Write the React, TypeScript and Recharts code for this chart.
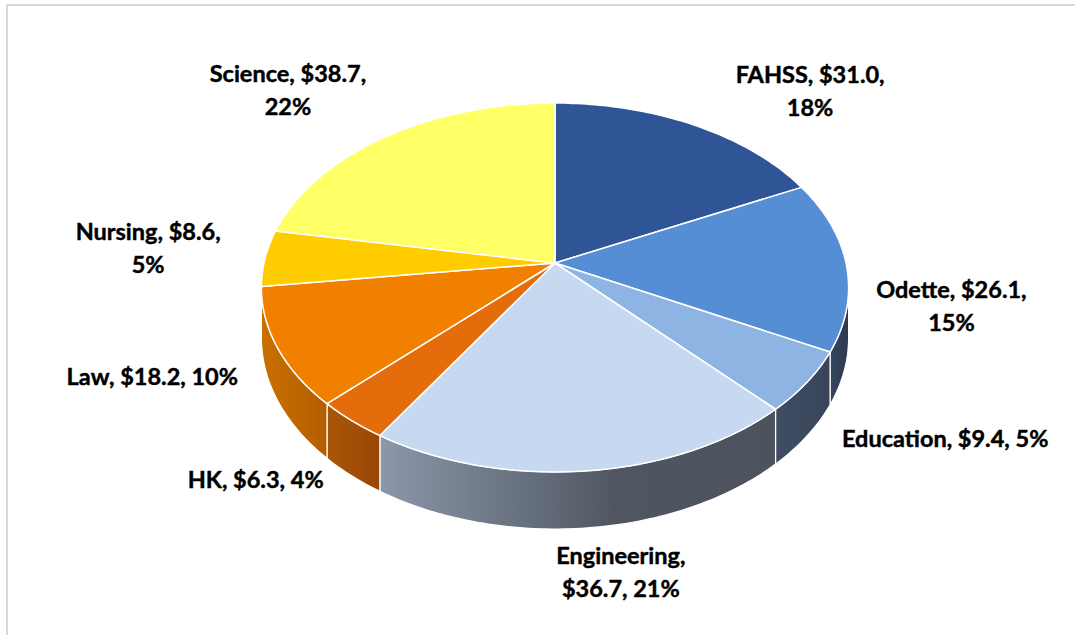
import React from 'react';
import { PieChart, Pie, Cell } from 'recharts';

// ---- data ----
const categories = ['FAHSS', 'Odette', 'Education', 'Engineering', 'HK', 'Law', 'Nursing', 'Science'];
const amounts = [31.0, 26.1, 9.4, 36.7, 6.3, 18.2, 8.6, 38.7];
const percentLabels = ['18%', '15%', '5%', '21%', '4%', '10%', '5%', '22%'];
// how many comma-separated parts of the label sit on the first line
const labelBreaks = [2, 2, 3, 1, 3, 3, 2, 2];

// ---- styles / layout ----
const topColors = ['#2f5597', '#558ed5', '#8db4e2', '#c6d9f1', '#e46c0a', '#f28000', '#ffcc00', '#ffff66'];
const wallStops: string[][] = [
  ['#22407a', '#22407a', '#22407a'],
  ['#36455e', '#303e55', '#2c394e'],
  ['#3f4d63', '#3b485d', '#384559'],
  ['#8b98aa', '#4f5661', '#4c535d'],
  ['#aa560a', '#a04d07', '#984705'],
  ['#c97000', '#bd6600', '#b25e00'],
  ['#c09900', '#c09900', '#c09900'],
  ['#bfbf4c', '#bfbf4c', '#bfbf4c'],
];
const labelNudge: [number, number][] = [
  [117, -42], [105, 33], [138, 65], [34, 93], [-96, 67], [-125, 38], [-117, -18], [-98, -55],
];
const LINE_H = 33;
const FONT = "Lato, 'Open Sans', sans-serif";
const FONT_SIZE = 23.5;

// perspective parameters
const K = 0.6227; // vertical squash
const B = 0.1328; // perspective strength
const H = 49.5; // wall height
const VIS_L = (Math.acos(-B) * 180) / Math.PI;
const VIS_R = 360 - VIS_L;

const data = categories.map((name, i) => ({ name, value: amounts[i] }));

function proj(cx: number, cy: number, r: number, theta: number): [number, number, number] {
  const t = (theta * Math.PI) / 180;
  const u = Math.sin(t);
  const v = Math.cos(t);
  const d = 1 + B * v;
  return [cx + (r * u) / d, cy - (r * K * v) / d, d];
}

function labelLines(i: number): string[] {
  const parts = [categories[i], `$${amounts[i].toFixed(1)}`, percentLabels[i]];
  const n = labelBreaks[i];
  const first = parts.slice(0, n).join(', ') + (n < 3 ? ',' : '');
  const rest = parts.slice(n).join(', ');
  return rest ? [first, rest] : [first];
}

const renderSlice = (props: any) => {
  const { cx, cy, outerRadius, startAngle, endAngle } = props;
  const name = props.payload?.name ?? props.name;
  const i = categories.indexOf(name);
  const a = 90 - startAngle;
  const b = 90 - endAngle;
  const steps = Math.max(2, Math.ceil(b - a));
  let top = `M${cx},${cy}`;
  for (let k = 0; k <= steps; k++) {
    const th = a + ((b - a) * k) / steps;
    const [x, y] = proj(cx, cy, outerRadius, th);
    top += ` L${x.toFixed(2)},${y.toFixed(2)}`;
  }
  top += ' Z';

  const wa = Math.max(a, VIS_L);
  const wb = Math.min(b, VIS_R);
  let wall: React.ReactNode = null;
  const gid = `wallgrad-${i}`;
  if (wb > wa) {
    const n = Math.max(2, Math.ceil(wb - wa));
    const upper: string[] = [];
    const lower: string[] = [];
    for (let k = 0; k <= n; k++) {
      const th = wa + ((wb - wa) * k) / n;
      const [x, y, d] = proj(cx, cy, outerRadius, th);
      upper.push(`${x.toFixed(2)},${y.toFixed(2)}`);
      lower.push(`${x.toFixed(2)},${(y + H / d).toFixed(2)}`);
    }
    const pts = [...upper, ...lower.reverse()];
    const stops = wallStops[i];
    wall = (
      <g>
        <defs>
          <linearGradient id={gid} x1="0" y1="0" x2="1" y2="0">
            <stop offset="0" stopColor={stops[0]} />
            <stop offset="0.6" stopColor={stops[1]} />
            <stop offset="1" stopColor={stops[2]} />
          </linearGradient>
        </defs>
        <polygon points={pts.join(' ')} fill={`url(#${gid})`} stroke="#ffffff" strokeWidth={1.2} strokeLinejoin="round" />
      </g>
    );
  }
  return (
    <g>
      {wall}
      <path d={top} fill={topColors[i]} stroke="#ffffff" strokeWidth={1.5} strokeLinejoin="round" />
    </g>
  );
};

const renderLabel = (p: any) => {
  const { cx, cy, outerRadius, index } = p;
  const mid = p.midAngle ?? (p.startAngle + p.endAngle) / 2;
  const [x0, y0] = proj(cx, cy, outerRadius, 90 - mid);
  const [dx, dy] = labelNudge[index];
  const x = x0 + dx;
  const y = y0 + dy;
  const lines = labelLines(index);
  return (
    <text
      x={x}
      y={y}
      textAnchor="middle"
      fontFamily={FONT}
      fontWeight={700}
      fontSize={FONT_SIZE}
      fill="#000000"
      stroke="#000000"
      strokeWidth={0.45}
    >
      {lines.map((l, k) => (
        <tspan key={k} x={x} dy={k === 0 ? 0 : LINE_H}>
          {l}
        </tspan>
      ))}
    </text>
  );
};

export default function App() {
  return (
    <div style={{ position: 'absolute', left: 0, top: 0, width: 1075, height: 635, overflow: 'hidden', background: '#ffffff' }}>
      <div
        style={{
          position: 'absolute',
          left: 6,
          top: 4,
          width: 1200,
          height: 800,
          borderLeft: '2px solid #d9d9d9',
          borderTop: '2px solid #d9d9d9',
        }}
      />
      <div style={{ position: 'absolute', left: 0, top: 0 }}>
        <PieChart width={1075} height={635} margin={{ top: 0, right: 0, bottom: 0, left: 0 }}>
          <Pie
            data={data}
            dataKey="value"
            nameKey="name"
            cx={555}
            cy={263}
            outerRadius={291}
            startAngle={90}
            endAngle={-270}
            stroke="none"
            isAnimationActive={false}
            labelLine={false}
            label={renderLabel}
            {...({ shape: renderSlice } as any)}
            activeShape={renderSlice}
            inactiveShape={renderSlice}
          >
            {data.map((d, i) => (
              <Cell key={d.name} fill={topColors[i]} />
            ))}
          </Pie>
        </PieChart>
      </div>
    </div>
  );
}
